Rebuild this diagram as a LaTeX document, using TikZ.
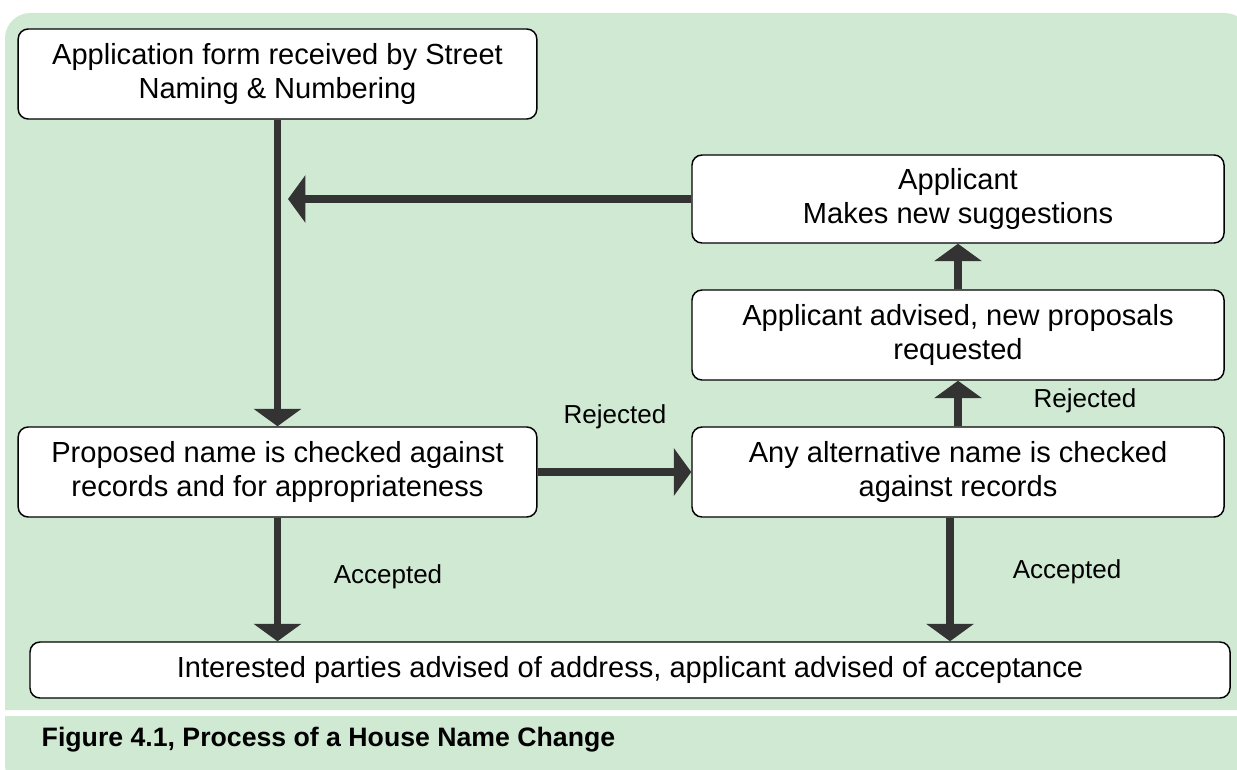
\documentclass[tikz,border=0pt]{standalone}
\usepackage{fontspec}
\setmainfont{Liberation Sans}
\usetikzlibrary{arrows.meta}

\definecolor{panelgreen}{HTML}{CFE9D3}
\definecolor{arrowgrey}{HTML}{333333}

\tikzset{
  procbox/.style={draw=black, line width=1.1pt, fill=white, rounded corners=7.5pt,
    align=center, inner sep=0pt, font=\fontsize{21.8}{25}\selectfont},
  flowarrow/.style={draw=arrowgrey, line width=5.5pt, -{Triangle[width=35pt,length=13pt]}},
  branchlbl/.style={font=\fontsize{19.5}{23}\selectfont}
}

\begin{document}
\begin{tikzpicture}[x=0.75pt,y=-0.75pt]
        \useasboundingbox (0,0) rectangle (1237,770);

        % panels
        \fill[panelgreen] (5,710) [rounded corners=19pt] -- (5,13) -- (1250,13) [sharp corners] -- (1250,710) -- cycle;
        \fill[panelgreen] (5,716) -- (1250,716) -- (1250,790) [rounded corners=19pt] -- (5,790) [sharp corners] -- cycle;

        \node[procbox, minimum width=389pt, minimum height=67.5pt] (appform) at (277.5,74)
            {Application form received by Street\\Naming \& Numbering};
        \node[procbox, minimum width=389pt, minimum height=67.5pt] (propcheck) at (277.5,472)
            {Proposed name is checked against\\records and for appropriateness};
        \node[procbox, minimum width=399pt, minimum height=66pt] (newsugg) at (958,199)
            {Applicant\\Makes new suggestions};
        \node[procbox, minimum width=399pt, minimum height=67.5pt] (advised) at (958,335)
            {Applicant advised, new proposals\\requested};
        \node[procbox, minimum width=399pt, minimum height=67.5pt] (altcheck) at (958,472)
            {Any alternative name is checked\\against records};
        \node[procbox, minimum width=900pt, minimum height=42pt] (notify) at (630,670)
            {Interested parties advised of address, applicant advised of acceptance};

        \coordinate (rejoin) at (288,199);

        \draw[flowarrow] (appform) -- (propcheck);
        \draw[flowarrow] (newsugg) -- (rejoin);
        \draw[flowarrow] (propcheck) -- (altcheck);
        \draw[flowarrow] (altcheck) -- (advised);
        \draw[flowarrow] (advised) -- (newsugg);
        \draw[flowarrow] (propcheck.south) -- (propcheck.south |- notify.north);
        \draw[flowarrow] ([xshift=-6pt]altcheck.south) -- ([xshift=-6pt]altcheck.south |- notify.north);

        \node[branchlbl] (rejA) at (615,417) {Rejected};
        \node[branchlbl] (rejB) at (1085,401) {Rejected};
        \node[branchlbl] (accA) at (388,577) {Accepted};
        \node[branchlbl] (accB) at (1067,572) {Accepted};

        \node[anchor=west, font=\bfseries\fontsize{20}{24}\selectfont] (caption) at (37,740)
            {Figure 4.1, Process of a House Name Change};
    \end{tikzpicture}
\end{document}
